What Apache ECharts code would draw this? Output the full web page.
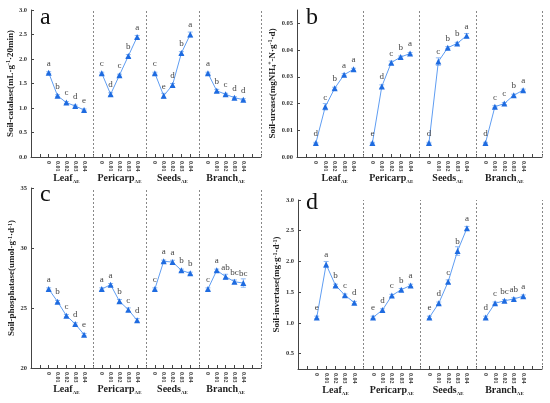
<!DOCTYPE html>
<html>
<head>
<meta charset="utf-8">
<script src="https://cdn.jsdelivr.net/npm/echarts@6/dist/echarts.min.js"></script>
<style>
html,body{margin:0;padding:0;background:#fff}
#main{width:550px;height:403px}
</style>
</head>
<body>
<div id="main"></div>
<script>
var groups = ['Leaf', 'Pericarp', 'Seeds', 'Branch'];
var doses = ['0', '0.01', '0.02', '0.03', '0.04'];

// a  soil catalase
var catalase = [[1.72, 1.25, 1.11, 1.04, 0.96], [1.71, 1.28, 1.67, 2.06, 2.45], [1.71, 1.25, 1.47, 2.12, 2.50], [1.71, 1.35, 1.28, 1.21, 1.17]];
var catalaseErr = [[0.02, 0.02, 0.02, 0.02, 0.02], [0.02, 0.03, 0.02, 0.03, 0.03], [0.02, 0.05, 0.03, 0.03, 0.05], [0.02, 0.03, 0.02, 0.02, 0.02]];
var catalaseSig = [['a', 'b', 'c', 'd', 'e'], ['c', 'd', 'c', 'b', 'a'], ['c', 'e', 'd', 'b', 'a'], ['a', 'b', 'c', 'd', 'd']];
var catalaseTicks = [0, 0.5, 1.0, 1.5, 2.0, 2.5, 3.0];

// b  soil urease
var urease = [[0.0052, 0.0188, 0.0257, 0.0308, 0.0328], [0.0052, 0.0264, 0.0353, 0.0374, 0.0387], [0.0052, 0.0357, 0.0409, 0.0425, 0.0454], [0.0052, 0.0188, 0.0200, 0.0231, 0.0250]];
var ureaseErr = [[0.0003, 0.0012, 0.0004, 0.0004, 0.0004], [0.0003, 0.0006, 0.0006, 0.0004, 0.0004], [0.0003, 0.0014, 0.0004, 0.0004, 0.0008], [0.0003, 0.0004, 0.0004, 0.0004, 0.0004]];
var ureaseSig = [['d', 'c', 'b', 'a', 'a'], ['e', 'd', 'c', 'b', 'a'], ['d', 'c', 'b', 'b', 'a'], ['d', 'c', 'c', 'b', 'a']];
var ureaseTicks = [0, 0.01, 0.02, 0.03, 0.04, 0.05];

// c  soil phosphatase
var phosphatase = [[26.58, 25.53, 24.36, 23.67, 22.78], [26.58, 26.94, 25.56, 24.86, 23.97], [26.58, 28.89, 28.83, 28.14, 27.89], [26.58, 28.14, 27.61, 27.19, 27.08]];
var phosphataseErr = [[0.1, 0.1, 0.1, 0.1, 0.1], [0.1, 0.1, 0.15, 0.15, 0.15], [0.1, 0.1, 0.15, 0.1, 0.1], [0.1, 0.1, 0.2, 0.15, 0.35]];
var phosphataseSig = [['a', 'b', 'c', 'd', 'e'], ['a', 'a', 'b', 'c', 'd'], ['c', 'a', 'a', 'b', 'b'], ['c', 'a', 'ab', 'bc', 'bc']];
var phosphataseTicks = [20, 25, 30, 35];

// d  soil invertase
var invertase = [[1.09, 1.95, 1.61, 1.45, 1.33], [1.09, 1.21, 1.445, 1.54, 1.61], [1.09, 1.32, 1.67, 2.17, 2.54], [1.09, 1.32, 1.36, 1.39, 1.435]];
var invertaseErr = [[0.02, 0.05, 0.02, 0.02, 0.02], [0.02, 0.02, 0.02, 0.02, 0.02], [0.02, 0.02, 0.03, 0.07, 0.03], [0.02, 0.02, 0.02, 0.02, 0.02]];
var invertaseSig = [['e', 'a', 'b', 'c', 'd'], ['e', 'd', 'c', 'b', 'a'], ['e', 'd', 'c', 'b', 'a'], ['d', 'c', 'bc', 'ab', 'a']];
var invertaseTicks = [0.5, 1.0, 1.5, 2.0, 2.5, 3.0];

var SERIF = 'Liberation Serif';
var LINE = '#5f9df2', MARK = '#1e6be0', ERR = '#8fbaf5';

function slot(g, i) { return 2 + 6 * g + i; }

var panels = [
	{ key: 'a', data: catalase, err: catalaseErr, sig: catalaseSig, ticks: catalaseTicks, min: 0, max: 3, dec: 1,
		name: 'Soil-catalase(mL·g{sup|-1}·20min)', grid: { left: 31, top: 10, width: 230, height: 147 }, gap: 13, letter: [35, 1] },
	{ key: 'b', data: urease, err: ureaseErr, sig: ureaseSig, ticks: ureaseTicks, min: 0, max: 0.055, dec: 2,
		name: 'Soil-urease(mgNH{sub|4}{sup|+}-N·g{sup|-1}·d)', grid: { left: 297, top: 10, width: 245, height: 147 }, gap: 17, letter: [301, 1] },
	{ key: 'c', data: phosphatase, err: phosphataseErr, sig: phosphataseSig, ticks: phosphataseTicks, min: 20, max: 35, dec: 0,
		name: 'Soil-phosphatase(umol·g{sup|-1}·d{sup|-1})', grid: { left: 31, top: 188, width: 230, height: 180 }, gap: 13, letter: [35, 178] },
	{ key: 'd', data: invertase, err: invertaseErr, sig: invertaseSig, ticks: invertaseTicks, min: 0.25, max: 3, dec: 1,
		name: 'Soil-invertase(mg·g{sup|-1}·d{sup|-1})', grid: { left: 298, top: 200, width: 244, height: 169 }, gap: 16, letter: [301, 186] }
];

var doseSlots = [], doseText = {};
groups.forEach(function(g, gi) {
	doses.forEach(function(d, i) { doseSlots.push(slot(gi, i)); doseText[slot(gi, i)] = d; });
});
var groupSlots = [4, 10, 16, 22];

var option = { animation: false, grid: [], xAxis: [], yAxis: [], series: [], title: [] };

panels.forEach(function(p, pi) {
	option.grid.push(p.grid);
	option.title.push({ text: p.key, left: p.letter[0], top: p.letter[1],
		textStyle: { fontFamily: SERIF, fontSize: 24, fontWeight: 'normal', color: '#111' } });
	// dose tick axis
	option.xAxis.push({
		type: 'value', gridIndex: pi, min: 0, max: 26, interval: 1,
		axisLine: { lineStyle: { color: '#444', width: 1 } },
		axisTick: { inside: true, length: 3, lineStyle: { color: '#444' } },
		splitLine: { show: false },
		axisLabel: { customValues: doseSlots, rotate: -90, margin: 4, fontFamily: SERIF, fontWeight: 'bold', fontSize: 6, color: '#333',
			formatter: function(v) { return doseText[v] || ''; } }
	});
	// group name axis
	option.xAxis.push({
		type: 'value', gridIndex: pi, min: 0, max: 26, position: 'bottom', offset: 15,
		axisLine: { show: false }, axisTick: { show: false }, splitLine: { show: false },
		axisLabel: { customValues: groupSlots, margin: 0, color: '#222',
			formatter: function(v) { return '{n|' + groups[groupSlots.indexOf(v)] + '}{s|AE}'; },
			rich: {
				n: { fontFamily: SERIF, fontWeight: 'bold', fontSize: 10, color: '#222', lineHeight: 12 },
				s: { fontFamily: SERIF, fontWeight: 'bold', fontSize: 5, color: '#222', verticalAlign: 'bottom', lineHeight: 12, padding: [5, 0, 0, 0] }
			} }
	});
	option.yAxis.push({
		type: 'value', gridIndex: pi, min: p.min, max: p.max,
		name: p.name, nameLocation: 'middle', nameRotate: 90, nameGap: p.gap,
		nameTextStyle: { fontFamily: SERIF, fontWeight: 'bold', fontSize: 9, color: '#222',
			rich: {
				sup: { fontFamily: SERIF, fontWeight: 'bold', fontSize: 6, color: '#222', verticalAlign: 'top', padding: [0, 0, 4, 0] },
				sub: { fontFamily: SERIF, fontWeight: 'bold', fontSize: 6, color: '#222', verticalAlign: 'bottom', padding: [4, 0, 0, 0] }
			} },
		axisLine: { show: true, lineStyle: { color: '#444', width: 1 } },
		axisTick: { show: true, inside: true, length: 3, customValues: p.ticks, lineStyle: { color: '#444' } },
		splitLine: { show: false },
		axisLabel: { customValues: p.ticks, margin: 4, fontFamily: SERIF, fontWeight: 'bold', fontSize: 6.5, color: '#333',
			formatter: function(v) { return v.toFixed(p.dec); } }
	});
	var xi = pi * 2;
	// error bars
	var errData = [];
	p.data.forEach(function(arr, gi) {
		arr.forEach(function(v, i) { errData.push([slot(gi, i), v, p.err[gi][i]]); });
	});
	option.series.push({
		type: 'custom', xAxisIndex: xi, yAxisIndex: pi, z: 1, silent: true, data: errData,
		renderItem: function(params, api) {
			var x = api.value(0), y = api.value(1), e = api.value(2);
			var t = api.coord([x, y + e]), b = api.coord([x, y - e]);
			var st = { stroke: ERR, lineWidth: 1 };
			return { type: 'group', children: [
				{ type: 'line', shape: { x1: t[0], y1: t[1], x2: b[0], y2: b[1] }, style: st },
				{ type: 'line', shape: { x1: t[0] - 2.5, y1: t[1], x2: t[0] + 2.5, y2: t[1] }, style: st },
				{ type: 'line', shape: { x1: b[0] - 2.5, y1: b[1], x2: b[0] + 2.5, y2: b[1] }, style: st }
			] };
		}
	});
	p.data.forEach(function(arr, gi) {
		var s = {
			type: 'line', xAxisIndex: xi, yAxisIndex: pi, z: 3,
			data: arr.map(function(v, i) { return [slot(gi, i), v]; }),
			symbol: 'triangle', symbolSize: 6,
			lineStyle: { color: LINE, width: 1 },
			itemStyle: { color: MARK },
			label: { show: true, position: 'top', distance: 2, fontFamily: SERIF, fontSize: 9, color: '#444',
				formatter: function(pr) { return p.sig[gi][pr.dataIndex]; } }
		};
		if (gi === 0) {
			s.markLine = { silent: true, symbol: ['none', 'none'], label: { show: false },
				lineStyle: { type: [2, 2], color: '#888', width: 1 },
				data: [{ xAxis: 7 }, { xAxis: 13 }, { xAxis: 19 }, { xAxis: 26 }] };
		}
		option.series.push(s);
	});
});

var chart = echarts.init(document.getElementById('main'));
chart.setOption(option);
</script>
</body>
</html>
